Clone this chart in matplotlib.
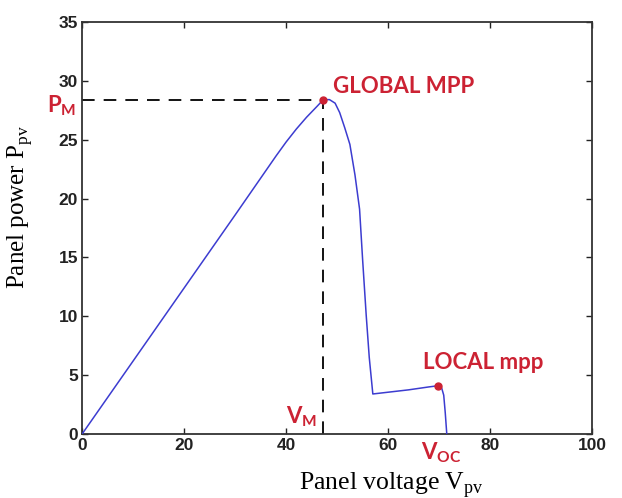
import matplotlib
matplotlib.use("Agg")
import matplotlib.pyplot as plt

# P-V curve data
voltage = [0, 10, 20, 30, 38, 40, 42, 44, 46, 47.3, 48.5, 49.6, 50.5, 51.5, 52.5, 53.5, 54.4, 55.0, 55.7, 56.3, 57.0, 60, 64, 68, 69.8, 70.5, 70.9, 71.2, 71.5]
power = [0, 6.2, 12.4, 18.6, 23.6, 24.8, 25.9, 26.9, 27.8, 28.4, 28.4, 28.1, 27.3, 26.0, 24.6, 22.0, 19.1, 14.8, 10.1, 6.5, 3.4, 3.55, 3.75, 4.0, 4.1, 3.9, 3.3, 1.8, 0]

vm, pm = 47.3, 28.4
v_local, p_local = 69.8, 4.1

x_ticks = [0, 20, 40, 60, 80, 100]
y_ticks = [0, 5, 10, 15, 20, 25, 30, 35]

red = "#cc2233"

fig = plt.figure(figsize=(6.22, 4.98), dpi=100, facecolor="white")
ax = fig.add_axes([0.132, 0.1285, 0.820, 0.8275])
ax.set_facecolor("white")

ax.plot(voltage, power, color="#3c3cd0", lw=1.1, zorder=3)
ax.plot([0, vm], [pm, pm], color="black", lw=1.3, dashes=(7, 5), zorder=2)
ax.plot([vm, vm], [0, pm], color="black", lw=1.3, dashes=(7, 5), zorder=2)
ax.plot([vm], [pm], "o", color=red, ms=5, zorder=4)
ax.plot([v_local], [p_local], "o", color=red, ms=5, zorder=4)

ax.set_xlim(0, 100)
ax.set_ylim(0, 35)
ax.set_xticks(x_ticks)
ax.set_yticks(y_ticks)
ax.tick_params(direction="in", length=4, width=1, top=True, right=True,
               labelsize=12.5, pad=3, colors="#222222")
for lab in ax.get_xticklabels() + ax.get_yticklabels():
    lab.set_family("Liberation Sans")
    lab.set_fontweight("bold")
for s in ax.spines.values():
    s.set_linewidth(1.3)
    s.set_color("#333333")

ax.set_xlabel("Panel voltage V$_\\mathregular{pv}$", family="Liberation Serif", fontsize=18.5)
ax.xaxis.label.set_verticalalignment("baseline")
ax.xaxis.set_label_coords(0.606, -0.1335)
ax.set_ylabel("Panel power P$_\\mathregular{pv}$", family="Liberation Serif", fontsize=18)
ax.yaxis.set_label_coords(-0.092, 0.55)

lbl = dict(color=red, family="Lato", fontweight="bold", fontsize=16)
ax.text(49.2, 29.0, "GLOBAL MPP", ha="left", va="baseline", **lbl)
ax.text(66.9, 5.5, "LOCAL mpp", ha="left", va="baseline", **lbl)
ax.text(-1.2, 27.3, "P$_\\mathregular{M}$", ha="right", va="baseline", clip_on=False, **lbl)
ax.text(46.1, 0.93, "V$_\\mathregular{M}$", ha="right", va="baseline", **lbl)
ax.text(70.5, -2.15, "V$_\\mathregular{OC}$", ha="center", va="baseline", clip_on=False, **lbl)

fig.savefig("out.png", dpi=100, facecolor="white")
